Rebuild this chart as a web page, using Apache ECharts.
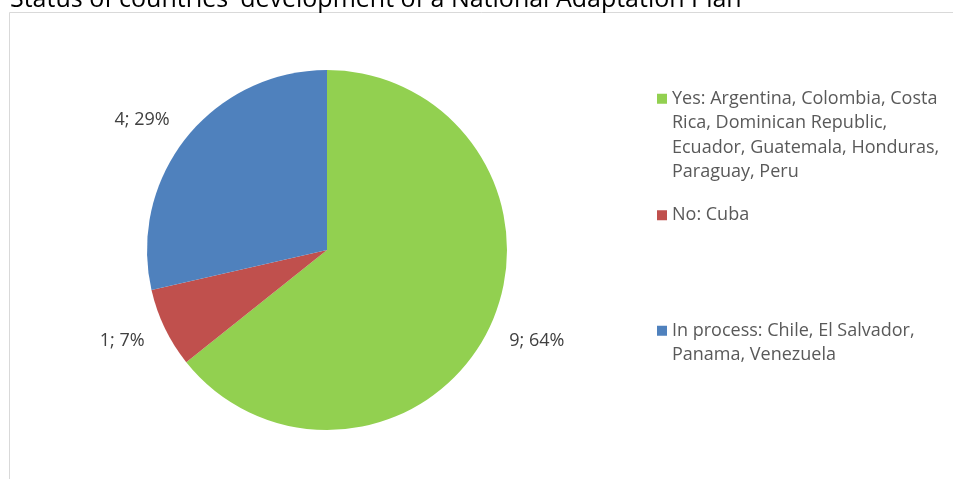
<!DOCTYPE html>
<html>
<head>
<meta charset="utf-8">
<style>
  html, body { margin: 0; padding: 0; background: #ffffff; }
  #chart { width: 953px; height: 479px; }
</style>
<script src="https://cdn.jsdelivr.net/npm/echarts@6/dist/echarts.min.js"></script>
</head>
<body>
<div id="chart"></div>
<script>
// Status of countries' development of a National Adaptation Plan
const titleText = "Status of countries' development of a National Adaptation Plan";
const categories = ['Yes', 'No', 'In process'];
const counts = [9, 1, 4];
const colors = ['#92D050', '#C0504D', '#4F81BD'];
const legendLines = [
  ['Yes: Argentina, Colombia, Costa', 'Rica, Dominican Republic,', 'Ecuador, Guatemala, Honduras,', 'Paraguay, Peru'],
  ['No: Cuba'],
  ['In process: Chile, El Salvador,', 'Panama, Venezuela']
];

const FONT = '"Open Sans", Lato, sans-serif';
const LINE_H = 24.5;
const legendTops = [81.5, 198, 313.5];

// Legend marker: a 10px square aligned with the first text line of a tall item
function markerPath(nLines) {
  const h = LINE_H * nLines;
  const y0 = LINE_H / 2 - 5;
  return 'path://M0,' + y0 + 'h10v10h-10z' +
         'M0,0h0.01v0.01h-0.01z' +
         'M0,' + (h - 0.01) + 'h0.01v0.01h-0.01z';
}

const total = counts.reduce((a, b) => a + b, 0);
const pieData = categories.map((c, i) => ({
  name: c,
  value: counts[i],
  itemStyle: { color: colors[i] }
}));

const legends = categories.map((c, i) => ({
  orient: 'vertical',
  left: 652,
  top: legendTops[i],
  data: [{ name: c, icon: markerPath(legendLines[i].length) }],
  itemWidth: 10,
  itemHeight: LINE_H * legendLines[i].length,
  itemGap: 4,
  selectedMode: false,
  formatter: () => legendLines[i].join('\n'),
  textStyle: {
    color: '#595959',
    fontFamily: FONT,
    fontSize: 18,
    lineHeight: LINE_H
  }
}));

const chart = echarts.init(document.getElementById('chart'), null, { renderer: 'canvas' });
chart.setOption({
  backgroundColor: '#ffffff',
  animation: false,
  color: colors,
  title: {
    text: titleText,
    left: 5,
    top: -18,
    textStyle: { color: '#000000', fontFamily: FONT, fontSize: 25, fontWeight: 'normal' }
  },
  graphic: [{
    type: 'rect',
    z: -1,
    shape: { x: 9.5, y: 12.5, width: 1000, height: 500 },
    style: { fill: 'none', stroke: '#D9D9D9', lineWidth: 1 }
  }],
  legend: legends,
  series: [{
    type: 'pie',
    center: [327, 250],
    radius: 180,
    startAngle: 90,
    clockwise: true,
    data: pieData,
    itemStyle: { borderWidth: 0 },
    emphasis: { disabled: true },
    label: {
      show: true,
      position: 'outside',
      color: '#404040',
      fontFamily: FONT,
      fontSize: 18,
      formatter: p => p.value + '; ' + Math.round(p.value / total * 100) + '%'
    },
    labelLine: { show: false, length: 29, length2: -11 }
  }]
});
</script>
</body>
</html>
